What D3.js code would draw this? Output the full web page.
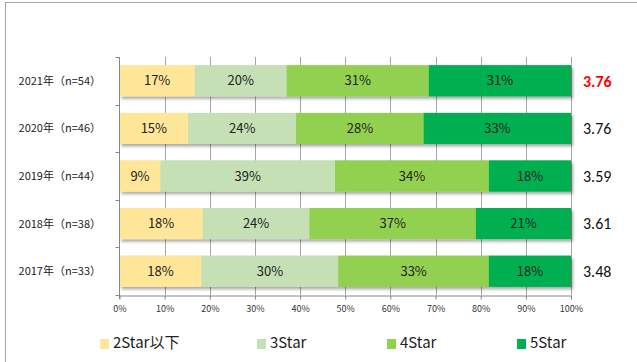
<!DOCTYPE html>
<html><head><meta charset="utf-8">
<script src="https://cdn.jsdelivr.net/npm/d3@7"></script>
<style>
html,body{margin:0;padding:0;background:#fff;}
svg{display:block;font-family:"Noto Sans CJK JP","Noto Sans",sans-serif;}
</style></head>
<body><svg id="chart" width="637" height="362"></svg>
<script>
// ---- data ----
const categories = ["2021年（n=54）","2020年（n=46）","2019年（n=44）","2018年（n=38）","2017年（n=33）"];
const seriesNames = ["2Star以下","3Star","4Star","5Star"];
const star2 = [0.1667, 0.1522, 0.0909, 0.1842, 0.1818];
const star3 = [0.2037, 0.2391, 0.3864, 0.2368, 0.3030];
const star4 = [0.3148, 0.2826, 0.3409, 0.3684, 0.3333];
const star5 = [0.3148, 0.3261, 0.1818, 0.2105, 0.1818];
const averages = ["3.76","3.76","3.59","3.61","3.48"];
const xTicks = [0,0.1,0.2,0.3,0.4,0.5,0.6,0.7,0.8,0.9,1.0];
const colors = ["#FFE699","#C5E0B4","#92D050","#00B050"];

(function(){
const svg = d3.select("#chart");
// outer frame
svg.append("rect").attr("x",5.5).attr("y",2.5).attr("width",700).attr("height",400)
  .attr("fill","none").attr("stroke","#A6A6A6").attr("stroke-width",1);

const defs = svg.append("defs");
const f = defs.append("filter").attr("id","sh").attr("x","-5%").attr("y","-20%").attr("width","115%").attr("height","160%");
f.append("feDropShadow").attr("dx",2).attr("dy",2.5).attr("stdDeviation",1.5).attr("flood-color","#000").attr("flood-opacity",0.35);

const pl = 119.5, pr = 571, pt = 57, pb = 295;
const x = d3.scaleLinear().domain([0,1]).range([pl,pr]);
const y = d3.scaleBand().domain(categories).range([pt,pb]).paddingInner(0.35).paddingOuter(0.175);

const seriesArrays = [star2,star3,star4,star5];
const rows = categories.map((c,i)=>{ const o={cat:c}; seriesNames.forEach((s,j)=>o[s]=seriesArrays[j][i]); return o;});
const stacked = d3.stack().keys(seriesNames)(rows);

// gridlines
svg.append("g").selectAll("line").data(xTicks.slice(1)).join("line")
  .attr("x1",d=>Math.round(x(d))+0.5).attr("x2",d=>Math.round(x(d))+0.5)
  .attr("y1",pt).attr("y2",pb).attr("stroke","#A6A6A6").attr("stroke-width",1);

// bars
const gBars = svg.append("g");
stacked.forEach((layer,j)=>{
  gBars.append("g").attr("filter","url(#sh)").selectAll("rect").data(layer).join("rect")
    .attr("x",d=>x(d[0])).attr("width",d=>x(d[1])-x(d[0]))
    .attr("y",d=>y(d.data.cat)).attr("height",y.bandwidth())
    .attr("fill",colors[j]);
});
stacked.forEach((layer,j)=>{
  gBars.append("g").selectAll("rect").data(layer).join("rect")
    .attr("x",d=>x(d[0])).attr("width",d=>x(d[1])-x(d[0]))
    .attr("y",d=>y(d.data.cat)).attr("height",y.bandwidth())
    .attr("fill",colors[j]);
});
// segment labels
const fmt = d3.format(".0%");
stacked.forEach((layer,j)=>{
  svg.append("g").selectAll("text").data(layer).join("text")
    .attr("x",d=>(x(d[0])+x(d[1]))/2).attr("y",d=>y(d.data.cat)+y.bandwidth()/2)
    .attr("text-anchor","middle").attr("dy","0.36em")
    .attr("font-size",13).attr("fill","#222")
    .text(d=>fmt(d[1]-d[0]));
});

// x axis
const xAxis = d3.axisBottom(x).tickValues(xTicks).tickFormat(d3.format(".0%")).tickSize(4).tickSizeOuter(0);
const gx = svg.append("g").attr("transform",`translate(0,${pb+0.5})`).call(xAxis);
gx.select(".domain").attr("stroke","#868686");
gx.selectAll(".tick line").attr("stroke","#868686");
gx.selectAll("text").attr("font-size",9).attr("fill","#333").attr("dy","1.1em")
  .attr("font-family","'Noto Sans CJK JP',sans-serif");

// y axis line and boundary ticks
const gy = svg.append("g");
gy.append("line").attr("x1",pl).attr("x2",pl).attr("y1",pt).attr("y2",pb+4).attr("stroke","#868686");
const bounds = d3.range(categories.length+1).map(i=>pt + i*(pb-pt)/categories.length);
gy.selectAll("line.t").data(bounds).join("line").attr("class","t")
  .attr("x1",pl-4).attr("x2",pl).attr("y1",d=>Math.round(d)+0.5).attr("y2",d=>Math.round(d)+0.5)
  .attr("stroke","#868686");
gy.selectAll("text").data(categories).join("text")
  .attr("x",101).attr("y",d=>y(d)+y.bandwidth()/2).attr("dy","0.36em")
  .attr("text-anchor","end").attr("font-size",11).attr("fill","#222").text(d=>d);

// averages
svg.append("g").selectAll("text").data(averages).join("text")
  .attr("x",583).attr("y",(d,i)=>y(categories[i])+y.bandwidth()/2).attr("dy","0.36em")
  .attr("font-size",16).attr("fill",(d,i)=>i===0?"#FF0000":"#111")
  .attr("font-weight",(d,i)=>i===0?"bold":"normal")
  .attr("font-family","Carlito,'Liberation Sans','Noto Sans',sans-serif")
  .text(d=>d);

// legend
const legX = [100,257,387,517];
const lg = svg.append("g");
seriesNames.forEach((s,j)=>{
  lg.append("rect").attr("x",legX[j]).attr("y",339).attr("width",9).attr("height",10).attr("fill",colors[j]);
  lg.append("text").attr("x",legX[j]+13).attr("y",343).attr("dy","0.36em")
    .attr("font-size",15).attr("fill","#222").text(s);
});
})();
</script></body></html>
